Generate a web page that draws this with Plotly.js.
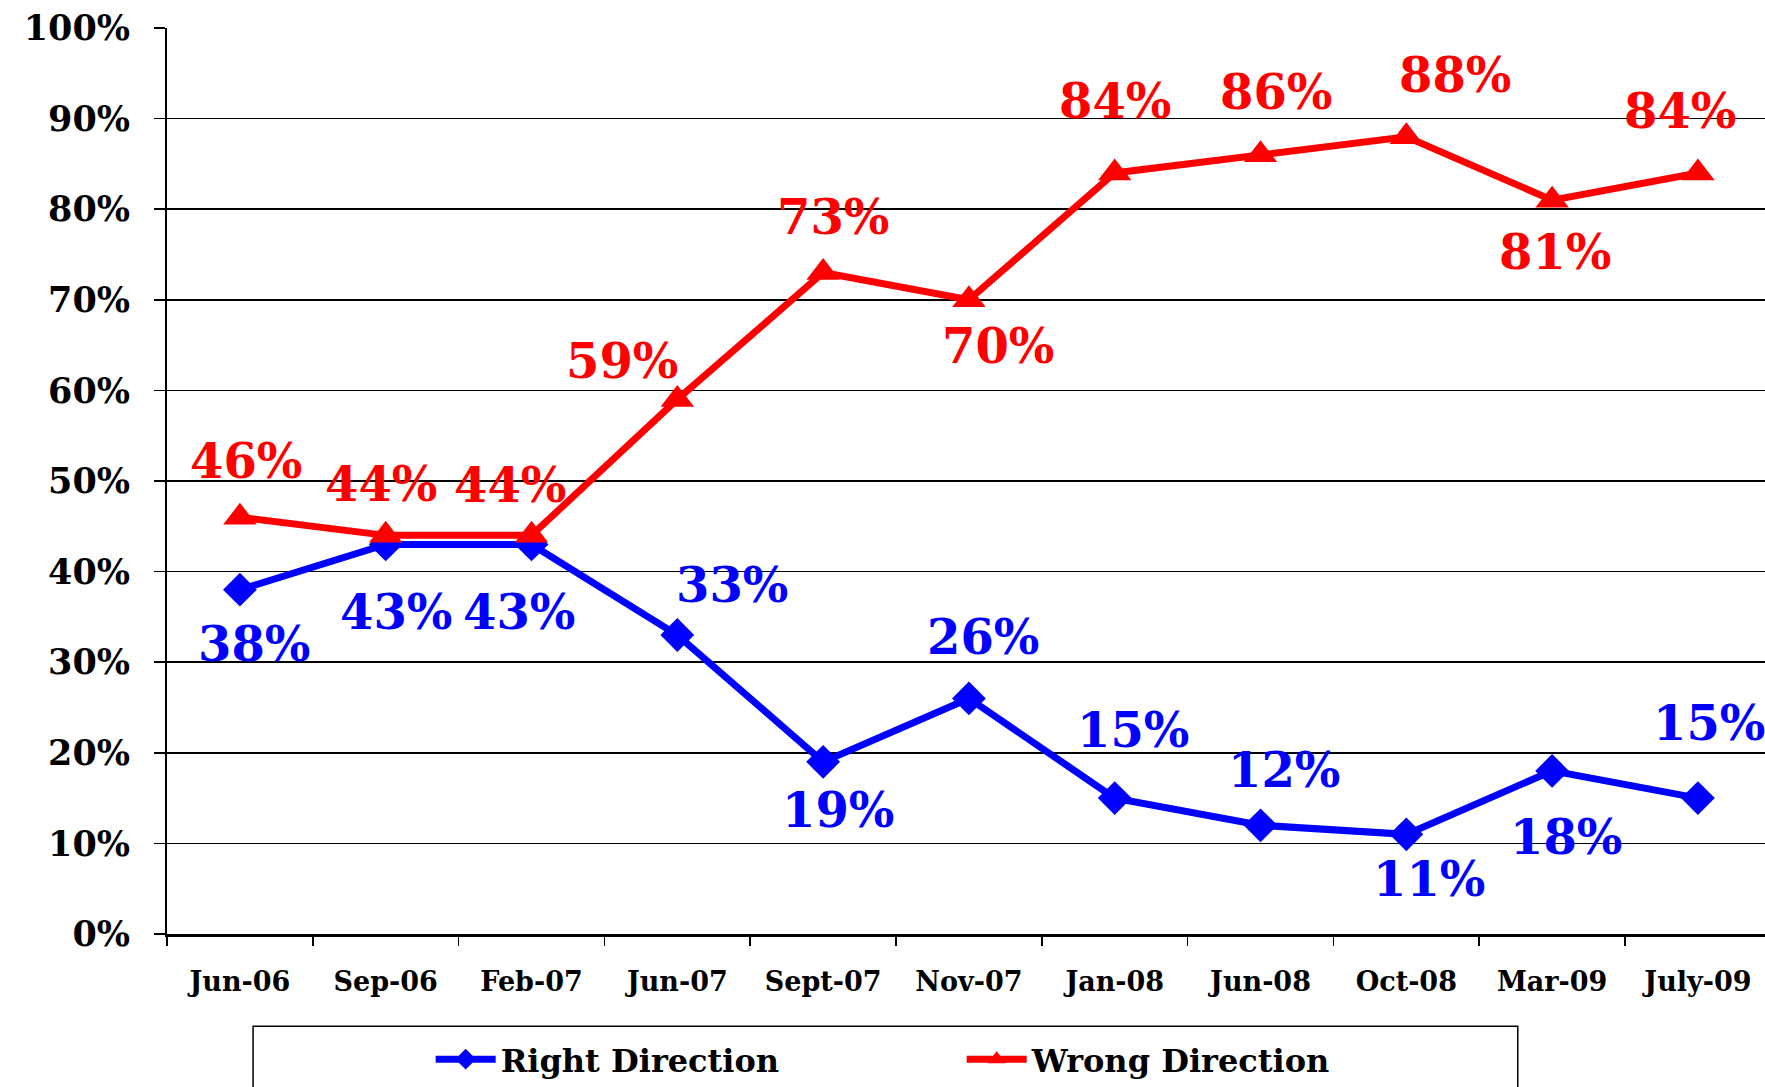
<!DOCTYPE html>
<html>
<head>
<meta charset="utf-8">
<script src="https://cdn.plot.ly/plotly-3.0.1.min.js"></script>
<style>html,body{margin:0;padding:0;background:#fff;}#chart{width:1765px;height:1087px;}</style>
</head>
<body>
<div id="chart"></div>
<script>
const categories = ["Jun-06","Sep-06","Feb-07","Jun-07","Sept-07","Nov-07","Jan-08","Jun-08","Oct-08","Mar-09","July-09"];
const rightDirection = [38,43,43,33,19,26,15,12,11,18,15];
const wrongDirection = [46,44,44,59,73,70,84,86,88,81,84];
const yTickValues = [0,10,20,30,40,50,60,70,80,90,100];

// label offsets in pixels (x, y up)
const rightLabelShift = [[14,-54],[10,-68],[-13,-68],[55,50],[15,-48],[14,61],[18,68],[23,55],[23,-45],[14,-66],[11,75]];
const wrongLabelShift = [[6,56],[-5,51],[-22,50],[-55,38],[10,56],[29,-46],[0,72],[15,63],[49,62],[3,-52],[-18,62]];

const FONT = "DejaVu Serif, Liberation Serif, serif";
const BLUE = "#0000FF", RED = "#FF0000";

const traces = [
  {x: categories, y: rightDirection, type: "scatter", mode: "lines+markers", name: "Right Direction",
   line: {color: BLUE, width: 7}, marker: {symbol: "diamond", size: 26, color: BLUE}},
  {x: categories, y: wrongDirection, type: "scatter", mode: "lines+markers", name: "Wrong Direction",
   line: {color: RED, width: 7}, marker: {symbol: "triangle-up", size: 29, color: RED}}
];

const annotations = [];
rightDirection.forEach((v, i) => annotations.push({
  x: categories[i], y: v, xref: "x", yref: "y", text: v + "%", showarrow: false,
  xshift: rightLabelShift[i][0], yshift: rightLabelShift[i][1],
  font: {family: FONT, size: 48, color: BLUE, weight: "bold"}
}));
wrongDirection.forEach((v, i) => annotations.push({
  x: categories[i], y: v, xref: "x", yref: "y", text: v + "%", showarrow: false,
  xshift: wrongLabelShift[i][0], yshift: wrongLabelShift[i][1],
  font: {family: FONT, size: 48, color: RED, weight: "bold"}
}));

const layout = {
  width: 1765, height: 1087,
  margin: {l: 166.5, r: 0, t: 27.7, b: 149.7, pad: 0},
  paper_bgcolor: "#fff", plot_bgcolor: "#fff",
  showlegend: true,
  legend: {orientation: "h", x: 0.165, xanchor: "left", y: -0.108, yanchor: "top",
    itemwidth: 60, entrywidth: 456, entrywidthmode: "pixels", bgcolor: "rgba(0,0,0,0)",
    font: {family: FONT, size: 32, color: "#000", weight: "bold"}},
  xaxis: {type: "category", range: [-0.5, 10.46], tickson: "boundaries",
    ticks: "outside", ticklen: 9, tickwidth: 1.5, tickcolor: "#000",
    showline: true, linecolor: "#000", linewidth: 3, showgrid: false, zeroline: false,
    ticklabelstandoff: 22,
    tickfont: {family: FONT, size: 27, color: "#000", weight: "bold"}},
  yaxis: {range: [0, 100], tickvals: yTickValues, ticktext: yTickValues.map(v => v + "%"),
    ticks: "outside", ticklen: 11, tickwidth: 1.5, tickcolor: "#000",
    showline: true, linecolor: "#000", linewidth: 2, showgrid: true, gridcolor: "#000", gridwidth: 1.5,
    zeroline: false, ticklabelstandoff: 17,
    tickfont: {family: FONT, size: 35, color: "#000", weight: "bold"}},
  shapes: [{type: "rect", xref: "paper", yref: "paper",
    x0: (252.6 - 166.5) / 1598.5, x1: (1517.7 - 166.5) / 1598.5,
    y0: -0.25, y1: (937.3 - 1030) / 909.6,
    line: {color: "#000", width: 1.5}, fillcolor: "rgba(0,0,0,0)"}],
  annotations: annotations
};

Plotly.newPlot("chart", traces, layout, {displayModeBar: false, staticPlot: true});
</script>
</body>
</html>
